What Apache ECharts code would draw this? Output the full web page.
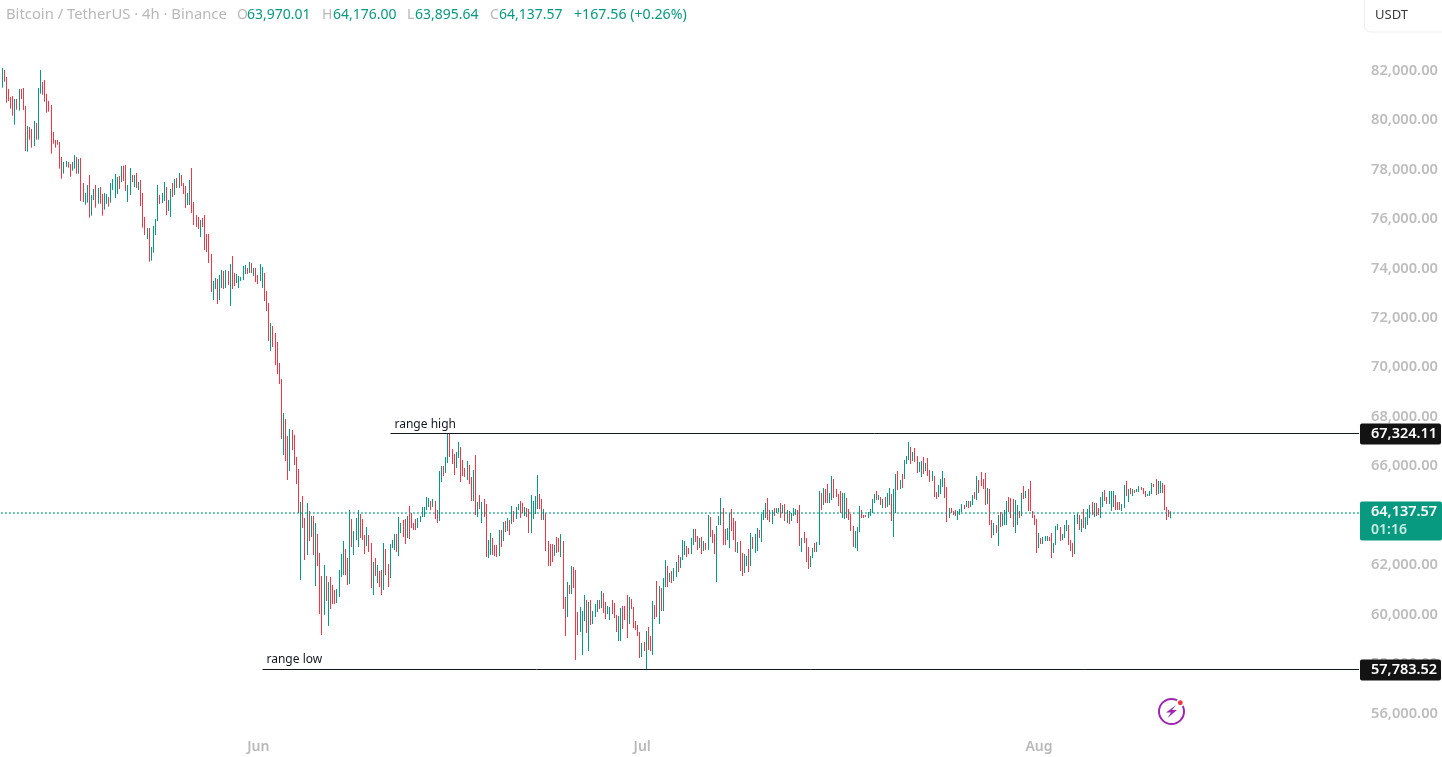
<!DOCTYPE html>
<html><head><meta charset="utf-8">
<style>html,body{margin:0;padding:0;background:#fff;overflow:hidden}#c{width:1442px;height:757px}</style>
<script src="https://cdn.jsdelivr.net/npm/echarts@6/dist/echarts.min.js"></script>
</head><body><div id="c"></div>
<script>
const highs=[
82099,82018,81735,81250,80927,80967,80846,80846,81250,81250,
81291,80563,79755,79714,79633,79957,79876,81291,82018,81533,
81614,81048,80765,80604,79512,79189,79189,79108,78501,78299,
78340,78299,78218,78299,78582,78501,78421,78461,77450,77046,
77370,77774,76965,77208,77370,77248,77289,77006,77046,77006,
76885,77450,77612,77814,77693,77733,78138,78151,78178,77370,
78057,77774,77774,77855,77491,77572,77046,76076,75631,75631,
74863,75712,75995,77370,76965,77046,77491,77289,76763,77208,
77450,77612,77653,77855,77774,77450,77329,77046,77572,78057,
76682,76157,76076,75955,76036,76157,75389,75389,74580,73489,
73610,73570,73731,73933,73893,73933,73893,74176,74499,73812,
73772,73691,73650,74095,74136,74014,74257,74216,74014,74014,
73731,74176,74055,73812,73085,72599,
71791,71669,71386,71023,70174,69527,68152,67910,67223,67505,
67465,67263,66374,65889,64555,64797,63908,64514,64191,63989,
63989,63706,63261,62493,61563,62008,61563,61321,61523,61199,
60997,61038,61806,62453,62978,62655,62291,64231,63867,63382,
63908,64231,64070,63867,63221,63544,63221,62897,62129,62291,
62008,61765,61806,62897,62655,62048,62857,63018,63261,63261,
63948,63706,63827,63867,63989,64393,64110,63706,63867,63908,
63989,64353,64353,64757,64716,64595,64676,64595,64231,65808,
66010,66010,66374,67324,67324,66697,66495,66576,66980,66778,
66252,65929,66212,66050,65565,65848,66455,64555,64838,64555,
64676,64474,63018,63302,63099,62816,62816,63423,63423,63746,
63786,63908,63827,64393,64191,64353,64474,64595,64514,64353,
64312,64272,64838,64595,64797,65646,64878,64676,64272,64110,
62978,62857,62857,62816,63140,63099,63261,62978,60714,61320,
61199,61967,61927,61806,60108,60310,60148,60795,60593,60512,
60593,60148,60431,60593,60593,60957,60876,60512,60350,60310,
60593,60472,59986,59946,60269,60350,60350,60795,60714,60633,
60310,59744,59582,59299,58854,58895,59340,59501,59137,60552,
60391,61361,61159,61078,61482,62210,61967,61684,61765,61886,
62129,62412,62331,63018,62978,62776,62695,63099,63463,63463,
63180,63099,63140,62978,62897,64029,63948,63423,63261,63584,
63988,64716,64312,63463,63503,64110,64271,63908,63786,62937,
62978,62493,62452,62372,62654,63301,63140,63261,63503,63423,
64069,64231,64514,64716,64231,64231,64312,64312,64312,64514,
64433,64474,64231,64191,64110,64312,64271,64231,64433,63099,
63342,63099,62735,62372,62695,62897,62937,64999,64918,65120,
65080,65282,64918,65605,65484,65080,64878,64999,64918,64918,
64716,64271,64069,63584,63382,63544,64393,64231,64029,64029,
64150,64271,64676,64878,64999,64837,64756,64676,64756,64918,
65120,64878,65080,65686,65808,65444,65686,66252,66414,66980,
66778,66576,66737,66414,66171,66212,66373,66131,66333,65848,
65808,65605,64959,65242,65484,65808,65525,65161,64312,64312,
64191,64231,64191,64271,64474,64433,64595,64595,64595,64837,
64959,65605,65444,65767,65484,65727,65120,65080,63827,63705,
63625,64029,64150,64069,64231,64595,64756,64716,64676,64635,
64433,64191,64918,65201,64999,65080,65403,64191,64029,63867,
63301,63099,63140,63180,63180,63140,63301,62897,63584,63665,
63544,63261,63625,63827,63625,63018,62897,64029,64110,64029,
63867,64271,63948,64271,64433,64554,64514,64514,64312,64756,
64959,65039,64756,64999,64999,64999,64837,64554,64554,64474,
65242,65403,65080,65120,65080,65039,65080,65201,65161,65120,
64999,64878,64999,65322,65282,65484,65403,65403,65322,65242,
64352,64231,64176];
const lows=[
81304,81547,80698,80765,80455,80172,79809,80415,80375,80846,
80402,78744,78717,79202,78879,78946,79202,79202,81062,81021,
80738,80294,80334,78636,79040,78879,79000,78030,77626,77828,
78097,78070,77706,77949,78030,77828,77828,76723,76682,76575,
76655,76049,76130,76763,76453,76615,76615,76130,76372,76615,
76494,76655,77168,76844,77006,77208,77491,77531,77127,76682,
76965,77491,77289,77248,77168,76521,75645,75348,75187,74270,
74311,74634,75348,75914,76602,76642,76723,76157,76319,76076,
76885,76965,77248,77248,77329,77006,76440,76561,76561,76238,
75753,75672,75591,75267,75672,74742,74661,74216,73044,72721,
73165,72559,72721,73206,73165,73206,73327,72478,73165,73287,
73408,73206,73489,73529,73772,73772,73812,73812,73691,73448,
73367,73489,73206,72680,72276,71063,
70659,70821,70093,69729,69325,67101,66455,66212,65444,65808,
66657,66050,65283,64110,61402,63504,62210,62412,62978,63140,
62412,61159,61967,60027,59178,59987,60552,59542,60229,60431,
60431,60472,60714,61523,61604,61604,61199,61240,62735,62412,
63018,62735,63099,63018,62453,62776,62533,61078,60795,61563,
61280,61119,60795,60997,61604,61119,61482,62695,62614,62533,
62372,63302,63140,62857,63099,63059,63504,63423,63423,63504,
63746,63948,63948,64231,64353,64231,64353,63867,63706,63786,
65363,65606,65727,66131,66374,66091,65646,65929,66333,65363,
65606,65565,65444,65283,64595,64595,64029,63948,64272,63706,
63948,62331,62291,62412,62412,62372,62331,62372,62735,62978,
63342,63382,63221,63665,63746,63867,64231,63908,64110,63989,
63948,63302,63302,63867,64070,64272,64272,63827,63827,62574,
61967,61967,62129,62372,62493,62533,62331,60229,59137,59906,
60835,60835,61078,58167,59178,59299,58369,59744,59259,58531,
59582,59623,59906,60108,60229,60269,60067,59825,60027,59784,
60027,59865,59299,58935,58935,59420,59784,59057,59623,60229,
59461,59380,59137,58248,58288,58531,57790,58571,58531,58369,
59825,59906,59623,60148,60148,61118,61118,61320,61280,61361,
61522,61725,61886,62210,62412,62331,62452,62452,62816,62937,
62614,62695,62452,62574,62614,62614,63140,62897,62452,61320,
63625,63625,62816,62816,63018,62695,63382,63018,62533,62493,
61765,61563,61684,61967,61725,61967,62654,62493,62574,63099,
62937,63827,63908,63827,63746,63665,63988,64110,64150,63908,
64110,63786,63705,63665,63786,63988,64029,63705,62776,62533,
62897,62129,61846,61927,62291,62533,62533,62816,64231,64433,
64514,64514,64514,64635,64716,64756,64393,64110,63908,63867,
63908,63827,63382,62735,62695,62574,63342,63908,63908,63948,
63908,63988,64110,64514,64635,64635,64433,64312,64312,64352,
64433,63786,63140,64110,65039,65080,65120,65484,66091,66252,
66091,66212,66171,65727,65767,65565,65686,65808,65605,65363,
65403,64756,64676,64756,64878,65161,64716,63746,63908,64110,
64029,63988,63827,64029,64150,64271,64352,64312,64352,64433,
64676,64635,64918,65201,65080,64433,64474,63625,63099,63220,
63301,62776,63544,63584,63625,63625,64150,63908,63544,63301,
63625,63908,63988,64676,64716,64191,64191,63908,63625,62493,
62695,62857,62857,62978,62978,62978,62291,62493,62816,63423,
62978,63018,63099,63382,62816,62574,62331,62452,63665,63423,
63342,63503,63463,63625,63908,64029,63948,63988,64029,63908,
64352,64595,64474,64474,64191,64352,64231,64231,64231,64191,
64312,64797,64554,64878,64797,64918,64959,64959,65039,64878,
64756,64797,64797,64878,65161,64837,64878,64918,64918,64231,
63827,63948,63896];
const directions=(
"GRRRRRGRGR"+"RRGRRGRGGR"+"RRRRRRRRRG"+"GRRGGRGRRG"+"GRGGRGRRGG"+"RGGGGRGRRG"+"GRGRGRRRGR"+"GGGGRGGRGG"+"RGRGRRRGGR"+"RRRGRRRRRG"+"GRGGRGRGRR"+"GGGGGRGRGR"+"RGGRRR"+
"GRRRRRGRRG"+"RRRRGRRGRG"+"RGRRRGRGRR"+"RGGGGRRGRG"+"GGRRRGRRGR"+"GRRGRRGGGR"+"GGRRGRRRRG"+"GGGGGRGRRG"+"GRGGRRRGGR"+"RRGRRGRGRG"+"RRGGRRRGRG"+"RGRGRGGRRG"+"RRGGGGRRGR"+
"RRRGRRGRRG"+"RGRRRGGGRG"+"RGGGRGRRGG"+"RRRGGRRRGR"+"RRRRGRGRRG"+"RRGRGGRGRG"+"GRGGGRRGGR"+"RGRGRGRRRG"+"GGRRGGRRRG"+"RRGGRGRGGR"+"GGGRRGRGGR"+"GRGRGGGRRG"+"RRRGGRGGRG"+"RRGGRRRRGG"+"RRRRGGGRRR"+
"GGGGRGRGRG"+"GRGGRGRGGG"+"RGRRGGRGRR"+"GRRGGGRRGR"+"RRGGGRGRGG"+"RGRRRRGRRG"+"RGRGGGRRRG"+"GRGRGRRRRR"+"GRGGGRRGGG"+"RGGGRRRGGR"+"GRGGGRGRRG"+"GRRGGGRRRG"+"GRGRGRGGRR"+"RGGGRRGGRR"+"RRG").split("");
const monthLabels={ "2026-06-01":"Jun","2026-07-01":"Jul","2026-08-01":"Aug" };
const rangeHigh=67324.11, rangeLow=57783.52, lastPrice=64137.57;
const header=[["Bitcoin / TetherUS · 4h · Binance",6,"#b8b8b8",14.8],["O",237,"#b8b8b8",14],["63,970.01",247,"#089981",14],["H",322,"#b8b8b8",14],["64,176.00",333,"#089981",14],["L",407,"#b8b8b8",14],["63,895.64",415,"#089981",14],["C",490,"#b8b8b8",14],["64,137.57",499,"#089981",14],["+167.56 (+0.26%)",574,"#089981",14.2]];

const RED="#F23645",GREEN="#089981",FONT='"Noto Sans",sans-serif';
const slots=637, categories=[];
for(let i=0;i<slots;i++){const d=new Date(Date.UTC(2026,4,12,i*4));categories.push(d.toISOString().slice(0,13));}
const candles=highs.map((h,i)=>directions[i]==="G"?[lows[i],h,lows[i],h]:[h,lows[i],lows[i],h]);
const fmt=v=>v.toFixed(2).replace(/\B(?=(\d{3})+\.)/g,",");
const chart=echarts.init(document.getElementById("c"),null,{renderer:"canvas"});
const levelLine=(v,start,text,gap)=>[[{coord:[start,v],label:{show:true,position:"insideStartTop",formatter:text,color:"#131722",fontFamily:FONT,fontSize:12,distance:[4,gap]}},{coord:[slots-1,v]}]];
chart.setOption({
 animation:false,
 grid:{left:1.2,top:-3.75,width:1358.8,height:766.85,containLabel:false,outerBoundsMode:"none"},
 xAxis:{type:"category",data:categories,boundaryGap:true,axisLine:{show:false},axisTick:{show:false},splitLine:{show:false},
  axisLabel:{inside:true,margin:9,color:"#b8b8b8",fontFamily:FONT,fontSize:14,fontWeight:600,hideOverlap:false,
   interval:(i,v)=>v.slice(0,10) in monthLabels && v.endsWith("T00"),formatter:v=>monthLabels[v.slice(0,10)]||""}},
 yAxis:{type:"value",position:"right",min:54000,max:85000,interval:2000,scale:true,axisLine:{show:false},axisTick:{show:false},splitLine:{show:false},
  axisLabel:{margin:11,color:"#bdbdbd",fontFamily:FONT,fontSize:14.7,fontWeight:600,padding:[0,0,2,0],formatter:v=>(v>=56000&&v<=82000)?fmt(v):""}},
 series:[{type:"candlestick",data:candles,barWidth:1,large:false,progressive:0,clip:false,
   itemStyle:{color:GREEN,color0:RED,borderColor:GREEN,borderColor0:RED,borderWidth:1},
   markLine:{silent:true,symbol:"none",animation:false,data:[
    {yAxis:lastPrice,label:{show:false},lineStyle:{color:GREEN,type:[1.5,2.5],width:1.5}},
    ...levelLine(rangeHigh,182,"range high",3),...levelLine(rangeLow,122,"range low",4)],
    lineStyle:{color:"#131722",type:"solid",width:1}}}]
});
const yp=v=>chart.convertToPixel({yAxisIndex:0},v);
const tag=(v,txt)=>{const y=Math.round(yp(v));return [
 {type:"rect",shape:{x:1360,y:y-10.5,width:81,height:21,r:2},style:{fill:"#131313"},z:20},
 {type:"text",style:{x:1371,y:y,text:txt,fill:"#fff",font:'600 14.5px "Noto Sans"',textVerticalAlign:"middle"},z:21}];};
const yl=Math.round(yp(lastPrice));
chart.setOption({graphic:[
 ...header.map(([t,x,c,s])=>({type:"text",style:{x,y:15,text:t,fill:c,font:s+'px "Noto Sans"',textVerticalAlign:"middle"},z:21})),
 {type:"rect",shape:{x:1364.5,y:-6,width:90,height:38,r:6},style:{fill:"#fff",stroke:"#eceef2",lineWidth:1},z:19},
 {type:"text",style:{x:1375,y:15,text:"USDT",fill:"#3a3a3a",font:'13px "Noto Sans"',textVerticalAlign:"middle"},z:21},
 ...tag(rangeHigh,fmt(rangeHigh)),...tag(rangeLow,fmt(rangeLow)),
 {type:"rect",shape:{x:1360,y:yl-10.5,width:82,height:39,r:2},style:{fill:GREEN},z:20},
 {type:"text",style:{x:1371,y:yl,text:fmt(lastPrice),fill:"#fff",font:'600 14.5px "Noto Sans"',textVerticalAlign:"middle"},z:21},
 {type:"text",style:{x:1371,y:yl+18,text:"01:16",fill:"#c9ece4",font:'600 14px "Noto Sans"',textVerticalAlign:"middle"},z:21},
 {type:"circle",shape:{cx:1171.5,cy:711.5,r:12.5},style:{fill:"none",stroke:"#9c27b0",lineWidth:2},z:20},
 {type:"polygon",shape:{points:[[1176,705],[1166,712.5],[1171,712.5],[1167.5,718],[1177,710],[1172,710]]},style:{fill:"#9c27b0"},z:21},
 {type:"circle",shape:{cx:1180.3,cy:702.8,r:3.2},style:{fill:RED,stroke:"#fff",lineWidth:1.5},z:22}
]});
</script></body></html>
